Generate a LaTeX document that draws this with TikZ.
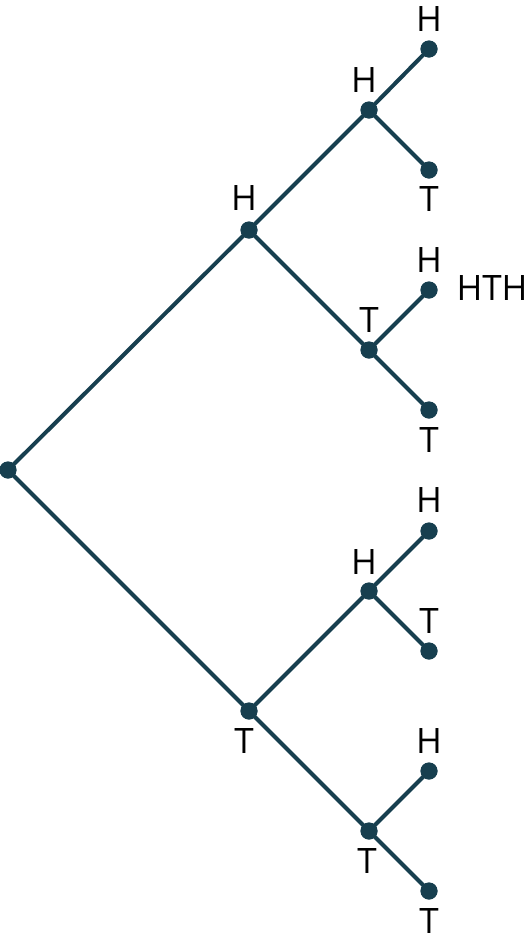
\documentclass[tikz,border=0pt]{standalone}
\usepackage{fontspec}
\setmainfont{Open Sans}
\definecolor{treecol}{HTML}{173F4F}
\begin{document}
\begin{tikzpicture}[x=1pt,y=-1pt,
  dot/.style={circle,fill=treecol,inner sep=0pt,minimum size=17pt},
  edge/.style={draw=treecol,line width=4pt},
  lab/.style={font=\fontsize{35}{40}\selectfont,text=black,inner sep=0pt,anchor=center}]
\useasboundingbox (0,0) rectangle (532,951);
% nodes
\node[dot] (r) at (8,470) {};
\node[dot] (h) at (249,230) {};
\node[dot] (t) at (249,711) {};
\node[dot] (hh) at (369,110) {};
\node[dot] (ht) at (369,350) {};
\node[dot] (th) at (369,591) {};
\node[dot] (tt) at (369,831) {};
\node[dot] (hhh) at (429,49) {};
\node[dot] (hht) at (429,170) {};
\node[dot] (hth) at (429,290) {};
\node[dot] (htt) at (429,410) {};
\node[dot] (thh) at (429,531) {};
\node[dot] (tht) at (429,651) {};
\node[dot] (tth) at (429,771) {};
\node[dot] (ttt) at (429,891) {};
% edges
\draw[edge] (r.center) -- (h.center);
\draw[edge] (r.center) -- (t.center);
\draw[edge] (h.center) -- (hh.center);
\draw[edge] (h.center) -- (ht.center);
\draw[edge] (t.center) -- (th.center);
\draw[edge] (t.center) -- (tt.center);
\draw[edge] (hh.center) -- (hhh.center);
\draw[edge] (hh.center) -- (hht.center);
\draw[edge] (ht.center) -- (hth.center);
\draw[edge] (ht.center) -- (htt.center);
\draw[edge] (th.center) -- (thh.center);
\draw[edge] (th.center) -- (tht.center);
\draw[edge] (tt.center) -- (tth.center);
\draw[edge] (tt.center) -- (ttt.center);
% redraw dots on top
\foreach \n in {r,h,t,hh,ht,th,tt,hhh,hht,hth,htt,thh,tht,tth,ttt}
  \fill[treecol] (\n.center) circle (8.5pt);
% labels
\node[lab] (lh) at (244,198) {H};
\node[lab] (lt) at (244,741) {T};
\node[lab] (lhh) at (364,80) {H};
\node[lab] (lht) at (369,320) {T};
\node[lab] (lth) at (364,562) {H};
\node[lab] (ltt) at (367,861) {T};
\node[lab] (lhhh) at (429,19) {H};
\node[lab] (lhht) at (429,199) {T};
\node[lab] (lhth) at (429,260) {H};
\node[lab] (lhtt) at (429,440) {T};
\node[lab] (lthh) at (429,500) {H};
\node[lab] (ltht) at (429,621) {T};
\node[lab] (ltth) at (429,741) {H};
\node[lab] (lttt) at (429,921) {T};
\node[lab] (seq) at (492,288) {HTH};
\end{tikzpicture}
\end{document}
